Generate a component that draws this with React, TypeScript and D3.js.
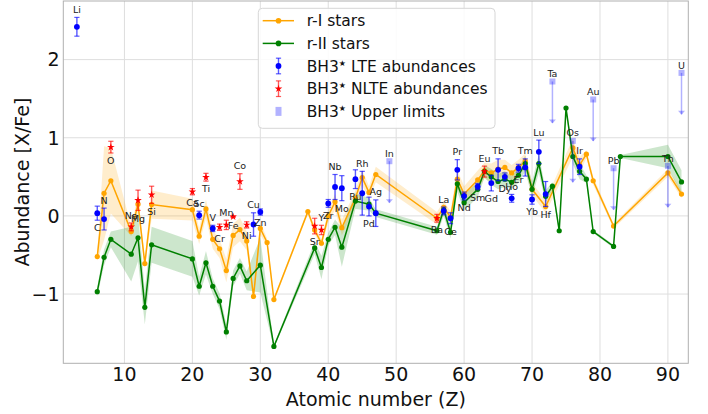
import React, { useEffect, useRef } from 'react';
import * as d3 from 'd3';

// r-I stars: atomic number, mean [X/Fe], spread
const rIZ = [6, 7, 8, 11, 12, 13, 14, 20, 21, 22, 23, 24, 25, 26, 27, 28, 29, 30, 31, 32, 37, 38, 39, 40, 41, 42, 44, 45, 46, 47, 56, 57, 58, 59, 60, 62, 63, 64, 65, 66, 67, 68, 69, 70, 72, 76, 77, 78, 79, 82, 90, 92];
const rIMean = [-0.52, 0.29, 0.45, -0.2, 0.15, -0.61, 0.145, 0.08, -0.26, 0.09, -0.3, -0.42, -0.7, -0.25, -0.175, -0.32, -1.03, -0.16, -0.34, -1.07, 0.055, -0.18, -0.35, 0.0, 0.18, -0.15, 0.225, 0.49, 0.3, 0.53, -0.03, 0.11, -0.02, 0.47, 0.28, 0.46, 0.58, 0.55, 0.6, 0.62, 0.55, 0.62, 0.7, 0.34, 0.12, 0.87, 0.65, 0.79, 0.45, -0.13, 0.55, 0.28];
const rIStd = [0.05, 0.6, 0.42, 0.06, 0.12, 0.05, 0.18, 0.14, 0.1, 0.12, 0.12, 0.12, 0.15, 0.15, 0.15, 0.12, 0.05, 0.08, 0.05, 0.03, 0.03, 0.05, 0.05, 0.08, 0.1, 0.1, 0.1, 0.1, 0.08, 0.1, 0.08, 0.08, 0.08, 0.12, 0.1, 0.12, 0.1, 0.12, 0.12, 0.1, 0.1, 0.1, 0.1, 0.08, 0.08, 0.12, 0.1, 0.05, 0.05, 0.03, 0.05, 0.05];

// r-II stars
const rIIZ = [6, 7, 8, 11, 12, 13, 14, 20, 21, 22, 23, 24, 25, 26, 27, 28, 30, 32, 38, 39, 40, 41, 42, 44, 46, 47, 56, 57, 58, 59, 60, 62, 63, 64, 65, 66, 67, 68, 69, 70, 71, 72, 73, 74, 75, 76, 77, 78, 79, 82, 83, 90, 92];
const rIIMean = [-0.97, -0.53, -0.3, -0.49, -0.28, -1.17, -0.37, -0.55, -0.9, -0.6, -0.9, -1.09, -1.485, -0.8, -0.64, -0.83, -0.63, -1.67, -0.41, -0.66, -0.3, -0.145, -0.4, 0.19, 0.15, 0.035, -0.19, 0.08, -0.21, 0.41, 0.17, 0.34, 0.57, 0.5, 0.44, 0.47, 0.43, 0.52, 0.67, 0.34, 0.67, 0.25, 0.38, -0.19, 1.38, 0.76, 0.57, 0.47, -0.2, -0.39, 0.76, 0.76, 0.435];
const rIIStd = [0.06, 0.1, 0.1, 0.35, 0.3, 0.22, 0.23, 0.23, 0.12, 0.15, 0.1, 0.1, 0.1, 0.1, 0.1, 0.12, 0.35, 0.02, 0.08, 0.15, 0.08, 0.1, 0.25, 0.1, 0.08, 0.05, 0.05, 0.08, 0.08, 0.1, 0.1, 0.1, 0.08, 0.1, 0.1, 0.1, 0.08, 0.1, 0.1, 0.1, 0.12, 0.08, 0.05, 0.05, 0.02, 0.1, 0.1, 0.05, 0.02, 0.02, 0.02, 0.15, 0.15];

// BH3* LTE abundances
const lteEl = ['Li', 'C', 'N', 'Sc', 'V', 'Cu', 'Zn', 'Zr', 'Nb', 'Mo', 'Ru', 'Rh', 'Pd', 'Ag', 'La', 'Ce', 'Pr', 'Nd', 'Sm', 'Gd', 'Tb', 'Dy', 'Ho', 'Er', 'Tm', 'Yb', 'Lu', 'Hf', 'Ir'];
const lteZ = [3, 6, 7, 21, 23, 29, 30, 40, 41, 42, 44, 45, 46, 47, 57, 58, 59, 60, 62, 64, 65, 66, 67, 68, 69, 70, 71, 72, 77];
const lteVal = [2.42, 0.035, -0.04, 0.01, -0.16, -0.11, 0.05, 0.16, 0.37, 0.355, 0.47, 0.29, 0.12, 0.035, 0.064, -0.03, 0.59, 0.255, 0.375, 0.42, 0.59, 0.5, 0.225, 0.61, 0.62, 0.21, 0.82, 0.28, 0.63];
const lteErr = [0.12, 0.09, 0.14, 0.05, 0.04, 0.15, 0.04, 0.05, 0.16, 0.16, 0.12, 0.28, 0.12, 0.17, 0.05, 0.07, 0.13, 0.05, 0.04, 0.1, 0.14, 0.05, 0.05, 0.05, 0.11, 0.06, 0.15, 0.16, 0.1];
const lteSide = [1, -1, 1, 1, 1, 1, -1, -1, 1, -1, -1, 1, -1, 1, 1, -1, 1, -1, -1, -1, 1, -1, 1, -1, 1, -1, 1, -1, 1];

// BH3* NLTE abundances
const nlteEl = ['O', 'Na', 'Mg', 'Si', 'Ca', 'Ti', 'Cr', 'Mn', 'Fe', 'Co', 'Ni', 'Sr', 'Y', 'Ba', 'Eu'];
const nlteZ = [8, 11, 12, 14, 20, 22, 24, 25, 26, 27, 28, 38, 39, 56, 63];
const nlteVal = [0.88, -0.14, 0.2, 0.27, 0.31, 0.495, -0.145, -0.115, -0.01, 0.44, -0.115, -0.13, -0.18, -0.03, 0.567];
const nlteErr = [0.075, 0.05, 0.13, 0.11, 0.04, 0.05, 0.04, 0.06, 0.01, 0.1, 0.04, 0.1, 0.06, 0.05, 0.07];
const nlteSide = [-1, 1, -1, -1, -1, -1, -1, 1, -1, 1, -1, -1, 1, -1, 1];

// BH3* upper limits
const ulEl = ['In', 'Ta', 'Os', 'Au', 'Pb', 'Th', 'U'];
const ulZ = [49, 73, 76, 79, 82, 90, 92];
const ulVal = [0.7, 1.72, 0.96, 1.49, 0.61, 0.64, 1.83];
const ulArrow = 0.53;

const xTicks = [10, 20, 30, 40, 50, 60, 70, 80, 90];
const yTicks = [-1, 0, 1, 2];

const ORANGE = '#ffa500';
const GREEN = '#008000';
const BLUE = '#0000ff';
const RED = '#ff0000';
const FONT = 'DejaVu Sans, sans-serif';

const App = () => {
  const ref = useRef<SVGSVGElement>(null);

  useEffect(() => {
    const svg = d3.select(ref.current);
    svg.selectAll('*').remove();

    const left = 63.3, right = 688.3, top = 1, bottom = 363.3;
    const x = d3.scaleLinear().domain([1, 93]).range([left, right]);
    const y = d3.scaleLinear().domain([-1.886, 2.75]).range([bottom, top]);

    // grid
    const grid = svg.append('g');
    xTicks.forEach(t => {
      grid.append('line').attr('x1', x(t)).attr('x2', x(t)).attr('y1', top).attr('y2', bottom)
        .attr('stroke', '#dedede').attr('stroke-width', 1);
    });
    yTicks.forEach(t => {
      grid.append('line').attr('x1', left).attr('x2', right).attr('y1', y(t)).attr('y2', y(t))
        .attr('stroke', '#dedede').attr('stroke-width', 1);
    });

    // bands and lines
    const series = [
      { z: rIZ, m: rIMean, s: rIStd, c: ORANGE },
      { z: rIIZ, m: rIIMean, s: rIIStd, c: GREEN },
    ];
    series.forEach(se => {
      const pts = se.z.map((z, i) => ({ z, m: se.m[i], s: se.s[i] }));
      const area = d3.area<any>().x(d => x(d.z)).y0(d => y(d.m - d.s)).y1(d => y(d.m + d.s));
      svg.append('path').attr('d', area(pts)).attr('fill', se.c).attr('fill-opacity', 0.2);
    });
    series.forEach(se => {
      const pts = se.z.map((z, i) => ({ z, m: se.m[i] }));
      const line = d3.line<any>().x(d => x(d.z)).y(d => y(d.m));
      svg.append('path').attr('d', line(pts)).attr('fill', 'none').attr('stroke', se.c).attr('stroke-width', 1.5);
      svg.append('g').selectAll('circle').data(pts).enter().append('circle')
        .attr('cx', d => x(d.z)).attr('cy', d => y(d.m)).attr('r', 2.6).attr('fill', se.c);
    });

    const label = (z: number, v: number, off: number, text: string) => {
      svg.append('text').attr('x', x(z)).attr('y', y(v + off)).attr('dy', '0.36em')
        .attr('text-anchor', 'middle').attr('font-family', FONT).attr('font-size', 9.5)
        .attr('fill', '#222').text(text);
    };

    const errBar = (g: any, cx: number, v: number, e: number, color: string) => {
      g.append('line').attr('x1', cx).attr('x2', cx).attr('y1', y(v - e)).attr('y2', y(v + e))
        .attr('stroke', color).attr('stroke-width', 1.4).attr('stroke-opacity', 0.65);
      [v - e, v + e].forEach(t => {
        g.append('line').attr('x1', cx - 2.6).attr('x2', cx + 2.6).attr('y1', y(t)).attr('y2', y(t))
          .attr('stroke', color).attr('stroke-width', 1.2).attr('stroke-opacity', 0.65);
      });
    };

    // upper limits
    const ulG = svg.append('g');
    ulZ.forEach((z, i) => {
      const cx = x(z);
      const y0 = y(ulVal[i]);
      const y1 = y(ulVal[i] - ulArrow);
      ulG.append('line').attr('x1', cx).attr('x2', cx).attr('y1', y0).attr('y2', y1)
        .attr('stroke', BLUE).attr('stroke-opacity', 0.3).attr('stroke-width', 1.5);
      ulG.append('path').attr('d', `M${cx - 3.5},${y1 - 3.5} L${cx + 3.5},${y1 - 3.5} L${cx},${y1 + 0.5} Z`)
        .attr('fill', BLUE).attr('fill-opacity', 0.3);
      ulG.append('rect').attr('x', cx - 3).attr('y', y0 - 3).attr('width', 6).attr('height', 6)
        .attr('fill', BLUE).attr('fill-opacity', 0.3);
      label(z, ulVal[i], 0.1, ulEl[i]);
    });

    // NLTE
    const nG = svg.append('g');
    const star = d3.symbol().type(d3.symbolStar).size(18);
    nlteZ.forEach((z, i) => {
      errBar(nG, x(z), nlteVal[i], nlteErr[i], RED);
      nG.append('path').attr('d', star()).attr('transform', `translate(${x(z)},${y(nlteVal[i])})`).attr('fill', RED);
      label(z, nlteVal[i], nlteSide[i] * (nlteErr[i] + 0.1), nlteEl[i]);
    });

    // LTE
    const lG = svg.append('g');
    lteZ.forEach((z, i) => {
      errBar(lG, x(z), lteVal[i], lteErr[i], BLUE);
      lG.append('circle').attr('cx', x(z)).attr('cy', y(lteVal[i])).attr('r', 2.9).attr('fill', BLUE);
      label(z, lteVal[i], lteSide[i] * (lteErr[i] + 0.1), lteEl[i]);
    });

    // frame
    svg.append('rect').attr('x', left).attr('y', top).attr('width', right - left).attr('height', bottom - top)
      .attr('fill', 'none').attr('stroke', '#b0b0b0').attr('stroke-width', 1);

    // tick labels
    xTicks.forEach(t => {
      svg.append('text').attr('x', x(t)).attr('y', 380.7).attr('text-anchor', 'middle')
        .attr('font-family', FONT).attr('font-size', 19).attr('fill', '#111').text(t);
    });
    yTicks.forEach(t => {
      svg.append('text').attr('x', 59.5).attr('y', y(t)).attr('dy', '0.36em').attr('text-anchor', 'end')
        .attr('font-family', FONT).attr('font-size', 19).attr('fill', '#111').text(t < 0 ? '\u2212' + Math.abs(t) : t);
    });

    svg.append('text').attr('x', (left + right) / 2).attr('y', 406).attr('text-anchor', 'middle')
      .attr('font-family', FONT).attr('font-size', 19).attr('fill', '#111').text('Atomic number (Z)');
    svg.append('text').attr('transform', `translate(28.5,${(top + bottom) / 2}) rotate(-90)`)
      .attr('text-anchor', 'middle').attr('font-family', FONT).attr('font-size', 19).attr('fill', '#111')
      .text('Abundance [X/Fe]');

    // legend
    const lg = svg.append('g');
    lg.append('rect').attr('x', 258.3).attr('y', 8.3).attr('width', 236.7).attr('height', 120).attr('rx', 4)
      .attr('fill', 'white').attr('fill-opacity', 0.85).attr('stroke', '#d6d6d6');
    const rows = [20.7, 43.4, 66, 88.7, 111.4];
    const hx = 278.5;
    [ORANGE, GREEN].forEach((c, i) => {
      lg.append('line').attr('x1', 262.7).attr('x2', 294).attr('y1', rows[i]).attr('y2', rows[i])
        .attr('stroke', c).attr('stroke-width', 1.5);
      lg.append('circle').attr('cx', hx).attr('cy', rows[i]).attr('r', 2.8).attr('fill', c);
    });
    errBar(lg, hx, y.invert(rows[2]), 0.1, BLUE);
    lg.append('circle').attr('cx', hx).attr('cy', rows[2]).attr('r', 2.9).attr('fill', BLUE);
    errBar(lg, hx, y.invert(rows[3]), 0.1, RED);
    lg.append('path').attr('d', star()).attr('transform', `translate(${hx},${rows[3]})`).attr('fill', RED);
    lg.append('rect').attr('x', hx - 3).attr('y', rows[4] - 4.5).attr('width', 6).attr('height', 9)
      .attr('fill', BLUE).attr('fill-opacity', 0.3);

    const texts = [null, null, ' LTE abundances', ' NLTE abundances', ' Upper limits'];
    const plain = ['r-I stars', 'r-II stars'];
    rows.forEach((ry, i) => {
      const t = lg.append('text').attr('x', 306.7).attr('y', ry).attr('dy', '0.36em')
        .attr('font-family', FONT).attr('font-size', 15.5).attr('fill', '#111');
      if (i < 2) {
        t.text(plain[i]);
      } else {
        t.append('tspan').text('BH3');
        t.append('tspan').attr('dy', -6).attr('font-size', 8).text('\u2605');
        t.append('tspan').attr('dy', 6).text(texts[i] as string);
      }
    });
  }, []);

  return (
    <svg ref={ref} width={708} height={414} style={{ position: 'absolute', left: 0, top: 0, background: 'white' }} />
  );
};

export default App;
